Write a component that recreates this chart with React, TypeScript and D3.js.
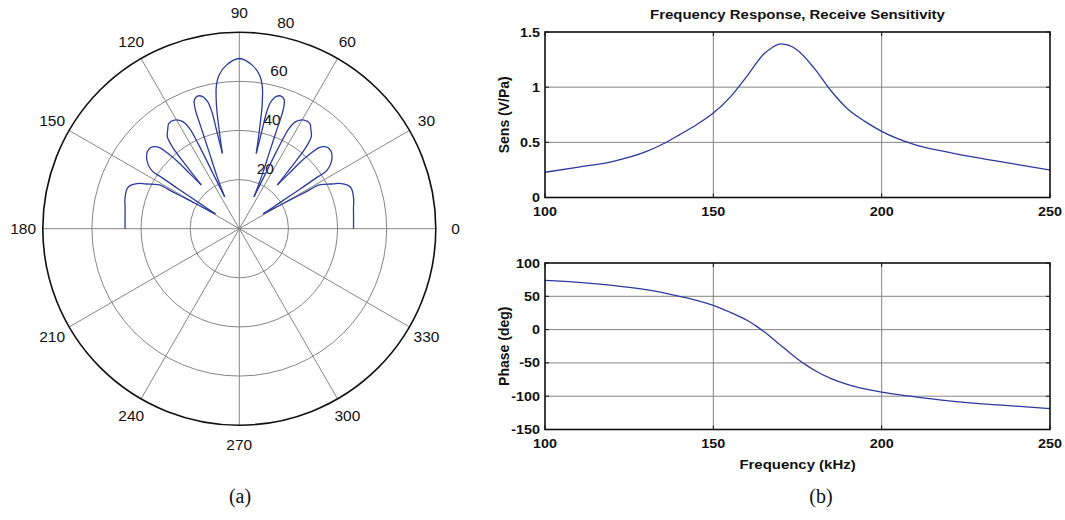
import React from 'react';
import * as d3 from 'd3';

const W = 1065;
const H = 520;

// ---------- Polar beam pattern (angle in degrees, radius in plot units) ----------
const lobeRightD = [[0, 46.5], [5, 46.7], [10, 47.2], [14, 48.0], [17, 48.4], [19.5, 48.5], [21.5, 47.8], [23, 46.4], [24.5, 44.4], [26, 41.5], [27.5, 39.1], [28.7, 37.1], [29, 30.5], [29.5, 24.2], [30.2, 17.8], [31.8, 11.4]];
const lobeRightC = [[31.8, 11.4], [32.7, 19.1], [33.1, 28.9], [33.4, 37.2], [33.7, 43.1], [36.6, 46.9], [40.8, 49.0], [43.7, 48.3], [45.5, 46.3], [46.5, 42.3], [47.6, 36.0], [48, 30.3], [49, 23.6]];
const lobeRightB = [[49, 23.6], [50, 34.6], [50.7, 42.8], [52, 47.6], [54.1, 49.7], [56.2, 51.6], [59.2, 51.5], [62.2, 49.3], [63.6, 45.6], [64.2, 37.1], [64.5, 25.0], [65.3, 14.3]];
const lobeRightA = [[65.3, 14.3], [67, 23.6], [68.5, 33.4], [69.3, 44.0], [69.8, 52.1], [70.8, 55.6], [72.5, 56.6], [74.5, 55.8], [76, 53.3], [76.8, 48.9], [77, 40.7], [77.3, 31.4]];
const mainLobe = [[77.3, 31.4], [78.3, 39.5], [79.3, 49.3], [79.8, 53], [80.8, 58.6], [82.5, 63.1], [85.5, 66.8], [90, 69.3], [94.5, 66.8], [97.5, 63.1], [99.2, 58.6], [100.2, 53], [100.7, 49.3], [101.7, 39.5], [102.7, 31.4]];
const lobeLeftA = [[102.7, 31.4], [103, 40.7], [103.2, 48.9], [104, 53.3], [105.5, 55.8], [107.5, 56.6], [109.2, 55.6], [110.2, 52.1], [110.7, 44.0], [111.5, 33.4], [113, 23.6], [114.7, 14.3]];
const lobeLeftB = [[114.7, 14.3], [115.5, 25.0], [115.8, 37.1], [116.4, 45.6], [117.8, 49.3], [120.8, 51.5], [123.8, 51.6], [125.9, 49.7], [128, 47.6], [129.3, 42.8], [130, 34.6], [131, 23.6]];
const lobeLeftC = [[131, 23.6], [132, 30.3], [132.4, 36.0], [133.5, 42.3], [134.5, 46.3], [136.3, 48.3], [139.2, 49.0], [143.4, 46.9], [146.3, 43.1], [146.6, 37.2], [146.9, 28.9], [147.3, 19.1], [148.2, 11.4]];
const lobeLeftD = [[148.2, 11.4], [149.8, 17.8], [150.5, 24.2], [151, 30.5], [151.3, 37.1], [152.5, 39.1], [154, 41.5], [155.5, 44.4], [157, 46.4], [158.5, 47.8], [160.5, 48.5], [163, 48.4], [166, 48.0], [170, 47.2], [175, 46.7], [180, 46.5]];
const polarLobes = [lobeRightD, lobeRightC, lobeRightB, lobeRightA, mainLobe, lobeLeftA, lobeLeftB, lobeLeftC, lobeLeftD];

const ringTicks = [20, 40, 60, 80];
const spokeAngles = [0, 30, 60, 90, 120, 150, 180, 210, 240, 270, 300, 330];

// ---------- Frequency response ----------
const sensFreq = [100, 110, 120, 130, 135, 140, 145, 150, 155, 160, 165, 167.5, 170, 172.5, 175, 180, 185, 190, 195, 200, 210, 220, 230, 240, 250];
const sensValue = [0.229, 0.275, 0.326, 0.415, 0.485, 0.57, 0.66, 0.765, 0.91, 1.1, 1.3, 1.36, 1.392, 1.378, 1.335, 1.17, 0.965, 0.8, 0.69, 0.6, 0.478, 0.41, 0.352, 0.3, 0.25];

const phaseFreq = [100, 110, 120, 130, 140, 145, 150, 155, 160, 163, 165, 167.5, 170, 172.5, 175, 177.5, 180, 185, 190, 195, 200, 210, 220, 230, 240, 250];
const phaseValue = [74, 71, 66.5, 60, 50, 44, 36.5, 26, 14, 4.5, -3, -13, -23.5, -34, -44, -53, -61, -73.5, -82.5, -89, -94, -101, -107, -111.5, -115, -118.5];

const freqTicks = [100, 150, 200, 250];
const sensTicks = [0, 0.5, 1, 1.5];
const sensTickLabels = ['0', '0.5', '1', '1.5'];
const phaseTicks = [-150, -100, -50, 0, 50, 100];

const SANS = '"Liberation Sans", Arial, Helvetica, sans-serif';
const SERIF = '"Liberation Serif", "Times New Roman", serif';
const BLUE = '#2c3a9e';
const GRID = '#858585';

function SText({ x, y, sx = 1, size, anchor = 'middle', weight = 'bold', baseline, children }: any) {
  return (
    <text
      transform={`translate(${x},${y}) scale(${sx},1)`}
      textAnchor={anchor}
      fontSize={size}
      fontWeight={weight}
      fontFamily={SANS}
      dominantBaseline={baseline}
      fill="#111"
    >
      {children}
    </text>
  );
}

function Polar() {
  const cx = 239.3, cy = 228.7, R = 196.5;
  const r = d3.scaleLinear().domain([0, 80]).range([0, R]);
  const toRad = (deg: number) => (deg * Math.PI) / 180;
  const line = d3
    .lineRadial<number[]>()
    .angle((d) => toRad(90 - d[0]))
    .radius((d) => r(d[1]))
    .curve(d3.curveCatmullRom.alpha(0.5));
  return (
    <g>
      {ringTicks.slice(0, -1).map((t) => (
        <circle key={t} cx={cx} cy={cy} r={r(t)} fill="none" stroke={GRID} strokeWidth={1} />
      ))}
      {spokeAngles.slice(0, 6).map((a) => (
        <line
          key={a}
          x1={cx + R * Math.cos(toRad(a))}
          y1={cy - R * Math.sin(toRad(a))}
          x2={cx - R * Math.cos(toRad(a))}
          y2={cy + R * Math.sin(toRad(a))}
          stroke={GRID}
          strokeWidth={1}
        />
      ))}
      <circle cx={cx} cy={cy} r={R} fill="none" stroke="#111" strokeWidth={1.6} />
      {spokeAngles.map((a) => (
        <text
          key={a}
          x={cx + R * 1.1 * Math.cos(toRad(a))}
          y={cy - R * 1.1 * Math.sin(toRad(a))}
          textAnchor="middle"
          dominantBaseline="central"
          fontSize={15.5}
          fontFamily={SANS}
          fill="#111"
        >
          {a}
        </text>
      ))}
      {ringTicks.map((t) => (
        <text
          key={t}
          x={cx + r(t) * Math.cos(toRad(82)) + 10.5}
          y={cy - r(t) * Math.sin(toRad(82)) - 6.4}
          textAnchor="start"
          fontSize={15.5}
          fontFamily={SANS}
          fill="#111"
        >
          {t}
        </text>
      ))}
      <g transform={`translate(${cx},${cy})`}>
        {polarLobes.map((lobe, i) => (
          <path key={i} d={line(lobe) || ''} fill="none" stroke={BLUE} strokeWidth={1.3} />
        ))}
      </g>
    </g>
  );
}

function AxesBox({ x, y, xTicks, yTicks, yTickLabels, xs, ys, ylabel, xTickBaseline }: any) {
  const [x0, x1] = x.range();
  const [yb, yt] = y.range();
  const line = d3
    .line<number>()
    .x((_, i) => x(xs[i]))
    .y((_, i) => y(ys[i]))
    .curve(d3.curveMonotoneX);
  const TL = 4;
  return (
    <g>
      {xTicks.slice(1, -1).map((t: number) => (
        <line key={'gx' + t} x1={x(t)} x2={x(t)} y1={yt} y2={yb} stroke={GRID} strokeWidth={1} />
      ))}
      {yTicks.slice(1, -1).map((t: number) => (
        <line key={'gy' + t} x1={x0} x2={x1} y1={y(t)} y2={y(t)} stroke={GRID} strokeWidth={1} />
      ))}
      <path d={line(xs) || ''} fill="none" stroke={BLUE} strokeWidth={1.3} />
      {xTicks.map((t: number) => (
        <g key={'tx' + t}>
          <line x1={x(t)} x2={x(t)} y1={yb} y2={yb - TL} stroke="#111" />
          <line x1={x(t)} x2={x(t)} y1={yt} y2={yt + TL} stroke="#111" />
        </g>
      ))}
      {yTicks.map((t: number) => (
        <g key={'ty' + t}>
          <line x1={x0} x2={x0 + TL} y1={y(t)} y2={y(t)} stroke="#111" />
          <line x1={x1} x2={x1 - TL} y1={y(t)} y2={y(t)} stroke="#111" />
        </g>
      ))}
      <rect x={x0} y={yt} width={x1 - x0} height={yb - yt} fill="none" stroke="#111" strokeWidth={1.6} />
      {yTicks.map((t: number, i: number) => (
        <SText key={'ly' + t} x={x0 - 5} y={y(t) + 4.5} sx={1.15} size={12.5} anchor="end">
          {yTickLabels ? yTickLabels[i] : String(t)}
        </SText>
      ))}
      {xTicks.map((t: number) => (
        <SText key={'lx' + t} x={x(t)} y={xTickBaseline} sx={1.15} size={12.5}>
          {String(t)}
        </SText>
      ))}
      <text
        transform={`translate(${x0 - 36.5},${(yt + yb) / 2}) rotate(-90)`}
        textAnchor="middle"
        fontSize={14}
        fontWeight="bold"
        fontFamily={SANS}
        fill="#111"
      >
        {ylabel}
      </text>
    </g>
  );
}

export default function App() {
  const x = d3.scaleLinear().domain([100, 250]).range([545, 1050]);
  const ySens = d3.scaleLinear().domain([0, 1.5]).range([197.5, 32]);
  const yPhase = d3.scaleLinear().domain([-150, 100]).range([429.5, 263]);
  return (
    <svg
      width={W}
      height={H}
      viewBox={`0 0 ${W} ${H}`}
      style={{ position: 'absolute', left: 0, top: 0, background: '#fff' }}
    >
      <rect x={0} y={0} width={W} height={H} fill="#fff" />
      <Polar />
      <SText x={797.5} y={19} sx={1.15} size={13}>
        Frequency Response, Receive Sensitivity
      </SText>
      <AxesBox
        x={x}
        y={ySens}
        xTicks={freqTicks}
        yTicks={sensTicks}
        yTickLabels={sensTickLabels}
        xs={sensFreq}
        ys={sensValue}
        ylabel="Sens (V/Pa)"
        xTickBaseline={216}
      />
      <AxesBox
        x={x}
        y={yPhase}
        xTicks={freqTicks}
        yTicks={phaseTicks}
        xs={phaseFreq}
        ys={phaseValue}
        ylabel="Phase (deg)"
        xTickBaseline={447.5}
      />
      <SText x={797.5} y={469} sx={1.15} size={13}>
        Frequency (kHz)
      </SText>
      <text x={240} y={503} textAnchor="middle" fontSize={20} fontFamily={SERIF} fill="#111">
        (a)
      </text>
      <text x={821} y={503} textAnchor="middle" fontSize={20} fontFamily={SERIF} fill="#111">
        (b)
      </text>
    </svg>
  );
}
